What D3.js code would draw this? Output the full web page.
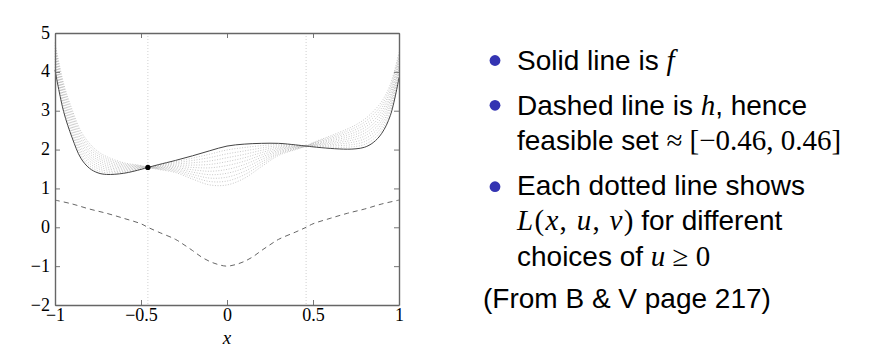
<!DOCTYPE html>
<html><head><meta charset="utf-8">
<script src="https://cdn.jsdelivr.net/npm/d3@7"></script>
<style>body{margin:0;background:#fff}svg{display:block}</style>
</head><body>
<svg id="c" width="874" height="353"></svg>
<script>
// ---- data ----
const xGrid = [-1,-0.95,-0.9,-0.85,-0.8,-0.75,-0.7,-0.6,-0.5,-0.46,-0.4,-0.3,-0.2,-0.1,0,0.1,0.2,0.3,0.4,0.46,0.5,0.6,0.7,0.75,0.8,0.85,0.9,0.95,1];
const fVals = [4.05,2.98,2.30,1.78,1.52,1.40,1.36,1.39,1.49,1.54,1.61,1.72,1.84,1.97,2.09,2.14,2.16,2.16,2.12,2.09,2.07,2.03,2.01,2.02,2.06,2.18,2.42,2.88,3.85];
const hX = [-1,-0.9,-0.8,-0.7,-0.6,-0.5,-0.46,-0.4,-0.3,-0.25,-0.2,-0.15,-0.1,-0.05,0,0.05,0.1,0.15,0.2,0.25,0.3,0.4,0.46,0.5,0.6,0.7,0.8,0.9,1];
const hVals = [0.70,0.60,0.47,0.36,0.23,0.09,0.0,-0.12,-0.31,-0.45,-0.60,-0.76,-0.88,-0.96,-1.0,-0.96,-0.88,-0.76,-0.60,-0.45,-0.31,-0.12,0.0,0.09,0.23,0.36,0.47,0.60,0.70];
const uChoices = [0.1,0.2,0.3,0.4,0.5,0.6,0.7,0.8,0.9,1.0];
const L01 = [4.12,3.052,2.372,1.85,1.584,1.455,1.406,1.417,1.50,1.54,1.598,1.689,1.78,1.882,1.99,2.052,2.10,2.129,2.108,2.09,2.081,2.062,2.062,2.082,2.132,2.26,2.502,2.96,3.915];
const L02 = [4.19,3.124,2.444,1.92,1.648,1.51,1.452,1.444,1.51,1.54,1.586,1.658,1.72,1.794,1.89,1.964,2.04,2.098,2.096,2.09,2.092,2.094,2.114,2.144,2.204,2.34,2.584,3.04,3.98];
const L03 = [4.26,3.196,2.516,1.99,1.712,1.565,1.498,1.471,1.52,1.54,1.574,1.627,1.66,1.706,1.79,1.876,1.98,2.067,2.084,2.09,2.103,2.126,2.166,2.206,2.276,2.42,2.666,3.12,4.045];
const L04 = [4.33,3.268,2.588,2.06,1.776,1.62,1.544,1.498,1.53,1.54,1.562,1.596,1.60,1.618,1.69,1.788,1.92,2.036,2.072,2.09,2.114,2.158,2.218,2.268,2.348,2.50,2.748,3.20,4.11];
const L05 = [4.40,3.34,2.66,2.13,1.84,1.675,1.59,1.525,1.54,1.54,1.55,1.565,1.54,1.53,1.59,1.70,1.86,2.005,2.06,2.09,2.125,2.19,2.27,2.33,2.42,2.58,2.83,3.28,4.175];
const L06 = [4.47,3.412,2.732,2.20,1.904,1.73,1.636,1.552,1.55,1.54,1.538,1.534,1.48,1.442,1.49,1.612,1.80,1.974,2.048,2.09,2.136,2.222,2.322,2.392,2.492,2.66,2.912,3.36,4.24];
const L07 = [4.54,3.484,2.804,2.27,1.968,1.785,1.682,1.579,1.56,1.54,1.526,1.503,1.42,1.354,1.39,1.524,1.74,1.943,2.036,2.09,2.147,2.254,2.374,2.454,2.564,2.74,2.994,3.44,4.305];
const L08 = [4.61,3.556,2.876,2.34,2.032,1.84,1.728,1.606,1.57,1.54,1.514,1.472,1.36,1.266,1.29,1.436,1.68,1.912,2.024,2.09,2.158,2.286,2.426,2.516,2.636,2.82,3.076,3.52,4.37];
const L09 = [4.68,3.628,2.948,2.41,2.096,1.895,1.774,1.633,1.58,1.54,1.502,1.441,1.30,1.178,1.19,1.348,1.62,1.881,2.012,2.09,2.169,2.318,2.478,2.578,2.708,2.90,3.158,3.60,4.435];
const L10 = [4.75,3.70,3.02,2.48,2.16,1.95,1.82,1.66,1.59,1.54,1.49,1.41,1.24,1.09,1.09,1.26,1.56,1.85,2.00,2.09,2.18,2.35,2.53,2.64,2.78,2.98,3.24,3.68,4.50];
const lagrangeSeries = [L01,L02,L03,L04,L05,L06,L07,L08,L09,L10];
const feasibleBounds = [-0.46, 0.46];
const optimumPoint = [-0.46, 1.54];
const xTicks = [-1,-0.5,0,0.5,1];
const yTicks = [-2,-1,0,1,2,3,4,5];

// ---- drawing ----
const svg = d3.select("#c");
const x = d3.scaleLinear().domain([-1,1]).range([55,399]);
const y = d3.scaleLinear().domain([-2,5]).range([305,33]);
const serif = "'Liberation Serif','DejaVu Serif',serif";
const sans = "'Liberation Sans','DejaVu Sans',sans-serif";
const fmt = v => (v<0?"\u2212":"") + String(Math.abs(v));

const plot = svg.append("g");
plot.selectAll("line.vb").data(feasibleBounds).join("line")
  .attr("x1",d=>x(d)).attr("x2",d=>x(d)).attr("y1",y(5)).attr("y2",y(-2))
  .attr("stroke","#c4c4c4").attr("stroke-width",0.8).attr("stroke-dasharray","1,2");

const curve = d3.curveCatmullRom.alpha(0.5);
const line = d3.line().x((d,i)=>x(xGrid[i])).y(d=>y(d)).curve(curve);
plot.selectAll("path.L").data(lagrangeSeries).join("path")
  .attr("d",line).attr("fill","none").attr("stroke","#b0b0b0")
  .attr("stroke-width",0.7).attr("stroke-dasharray","1,1.6");

plot.append("path").datum(hVals)
  .attr("d", d3.line().x((d,i)=>x(hX[i])).y(d=>y(d)).curve(curve))
  .attr("fill","none").attr("stroke","#555").attr("stroke-width",0.9).attr("stroke-dasharray","5,4");

plot.append("path").datum(fVals).attr("d",line)
  .attr("fill","none").attr("stroke","#444").attr("stroke-width",1);

plot.append("circle").attr("cx",x(optimumPoint[0])).attr("cy",y(optimumPoint[1])).attr("r",2.6).attr("fill","#000");

// axes box with inward ticks
const axisCol = "#666";
const gB = svg.append("g").attr("transform",`translate(0,${y(-2)})`)
  .call(d3.axisBottom(x).tickValues(xTicks).tickSizeInner(-5).tickSizeOuter(0).tickFormat(fmt));
const gT = svg.append("g").attr("transform",`translate(0,${y(5)})`)
  .call(d3.axisTop(x).tickValues(xTicks).tickSizeInner(-5).tickSizeOuter(0).tickFormat(""));
const gL = svg.append("g").attr("transform",`translate(${x(-1)},0)`)
  .call(d3.axisLeft(y).tickValues(yTicks).tickSizeInner(-5).tickSizeOuter(0).tickFormat(fmt));
const gR = svg.append("g").attr("transform",`translate(${x(1)},0)`)
  .call(d3.axisRight(y).tickValues(yTicks).tickSizeInner(-5).tickSizeOuter(0).tickFormat(""));
[gB,gT,gL,gR].forEach(g=>{
  g.select(".domain").attr("stroke",axisCol).attr("stroke-width",1.4);
  g.selectAll(".tick line").attr("stroke",axisCol).attr("stroke-width",0.9);
  g.selectAll("text").attr("font-family",serif).attr("font-size",18).attr("fill","#000");
});
gB.selectAll("text").attr("dy","0.68em").attr("y",4);
gL.selectAll("text").attr("x",-5).attr("dy","0.28em");

svg.append("text").attr("x",x(0)).attr("y",344).attr("text-anchor","middle")
  .attr("font-family",serif).attr("font-style","italic").attr("font-size",19).text("x");

// ---- bullet text ----
const bullets = [60.5,105.3,186.7];
svg.selectAll("circle.b").data(bullets).join("circle")
  .attr("cx",495).attr("cy",d=>d).attr("r",5.4).attr("fill","#3434b2");

const lines = [
  {y:70, parts:[["Solid line is ","s"],["f","i"]]},
  {y:115, parts:[["Dashed line is ","s"],["h","i"],[", hence","s"]]},
  {y:150, parts:[["feasible set ","s"],["\u2248 [\u22120.46, 0.46]","m"]]},
  {y:195, parts:[["Each dotted line shows","s"]]},
  {y:230, parts:[["L","i",1.3],["(","m",1.3],["x","i",1.3],[", ","m",1.3],["u","i",1.3],[", ","m",1.3],["v","i",1.3],[")","m",0],[" for different","s"]]},
  {y:266, parts:[["choices of ","s"],["u","i"],[" \u2265 0","m"]]},
];
const tx = svg.append("g");
lines.forEach(l=>{
  const t = tx.append("text").attr("x",517).attr("y",l.y).attr("fill","#000").style("white-space","pre");
  l.parts.forEach(p=>{
    const s = t.append("tspan").text(p[0]);
    if(p[1]==="s") s.attr("font-family",sans).attr("font-size",28);
    else s.attr("font-family",serif).attr("font-size",29).attr("font-style",p[1]==="i"?"italic":"normal");
    if(p[2]) s.attr("letter-spacing",p[2]);
  });
});
tx.append("text").attr("x",483).attr("y",308).attr("font-family",sans).attr("font-size",28)
  .text("(From B & V page 217)");
</script>
</body></html>
